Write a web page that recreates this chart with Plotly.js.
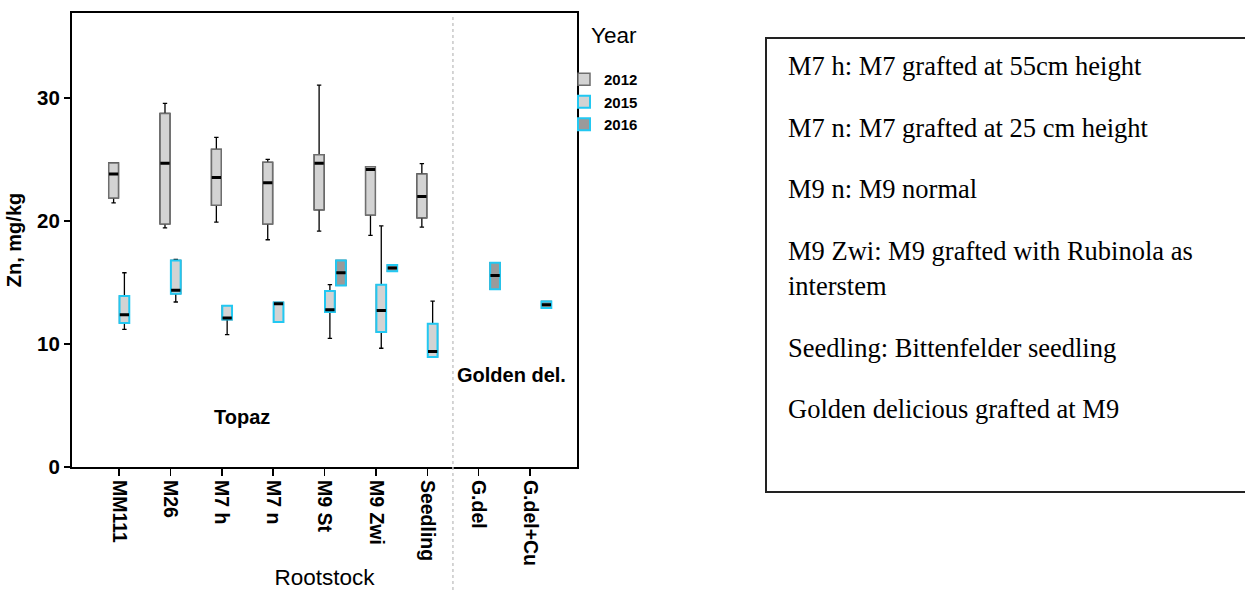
<!DOCTYPE html>
<html>
<head>
<meta charset="utf-8">
<script src="https://cdn.plot.ly/plotly-3.0.1.min.js"></script>
<style>html,body{margin:0;padding:0;background:#fff;}#chart{width:1245px;height:590px;}</style>
</head>
<body>
<div id="chart"></div>
<script>
// ---- Data ----
const categories = ["MM111", "M26", "M7 h", "M7 n", "M9 St", "M9 Zwi", "Seedling", "G.del", "G.del+Cu"];

const cats2012 = ["MM111", "M26", "M7 h", "M7 n", "M9 St", "M9 Zwi", "Seedling"];
const low2012 = [21.47, 19.44, 19.90, 18.47, 19.17, 18.82, 19.49];
const q1_2012 = [21.87, 19.76, 21.27, 19.76, 20.90, 20.49, 20.25];
const med2012 = [23.82, 24.68, 23.52, 23.11, 24.68, 24.19, 21.98];
const q3_2012 = [24.71, 28.73, 25.82, 24.76, 25.38, 24.41, 23.82];
const up2012  = [24.71, 29.55, 26.79, 25.00, 31.04, 24.41, 24.65];

const cats2015 = ["MM111", "M26", "M7 h", "M7 n", "M9 St", "M9 Zwi", "Seedling"];
const low2015 = [11.19, 13.41, 10.76, 11.78, 10.46, 9.65, 8.95];
const q1_2015 = [11.71, 14.09, 11.98, 11.78, 12.60, 10.97, 8.95];
const med2015 = [12.38, 14.36, 12.11, 13.27, 12.79, 12.73, 9.38];
const q3_2015 = [13.89, 16.79, 13.11, 13.38, 14.30, 14.82, 11.65];
const up2015  = [15.79, 16.87, 13.11, 13.38, 14.82, 19.60, 13.49];

const cats2016 = ["M9 St", "M9 Zwi", "G.del", "G.del+Cu"];
const low2016 = [14.76, 15.90, 14.44, 12.92];
const q1_2016 = [14.76, 15.90, 14.44, 12.92];
const med2016 = [15.79, 16.17, 15.57, 13.19];
const q3_2016 = [16.79, 16.41, 16.60, 13.46];
const up2016  = [16.79, 16.41, 16.60, 13.46];

const notes = [
  "M7 h: M7 grafted at 55cm height",
  "M7 n: M7 grafted at 25 cm height",
  "M9 n: M9 normal",
  "M9 Zwi: M9 grafted with Rubinola as",
  "interstem",
  "Seedling: Bittenfelder seedling",
  "Golden delicious grafted at M9"
];

// ---- Styling ----
const SANS = "Liberation Sans, Arial, sans-serif";
const SERIF = "Liberation Serif, Times New Roman, serif";
const years = [
  {name: "2012", cats: cats2012, low: low2012, q1: q1_2012, med: med2012, q3: q3_2012, up: up2012,
   offset: -0.105, fill: "#d3d3d3", border: "#6e6e6e", bw: 1.5},
  {name: "2015", cats: cats2015, low: low2015, q1: q1_2015, med: med2015, q3: q3_2015, up: up2015,
   offset: 0.105, fill: "#d3d3d3", border: "#22c8f2", bw: 2},
  {name: "2016", cats: cats2016, low: low2016, q1: q1_2016, med: med2016, q3: q3_2016, up: up2016,
   offset: 0.32, fill: "#9a9a9a", border: "#22c8f2", bw: 2}
];
const BOXW = 0.19;

const traces = [];
years.forEach(yr => {
  const xs = yr.cats.map(c => categories.indexOf(c) + yr.offset);
  // whiskers
  traces.push({
    type: "box", x: xs, q1: yr.q1, median: yr.med, q3: yr.q3,
    lowerfence: yr.low, upperfence: yr.up, width: BOXW, whiskerwidth: 0.45,
    line: {color: "#000", width: 1.3}, fillcolor: yr.fill, boxpoints: false,
    showlegend: false, hoverinfo: "skip", name: yr.name
  });
  // box outline
  traces.push({
    type: "box", x: xs, q1: yr.q1, median: yr.med, q3: yr.q3,
    lowerfence: yr.q1, upperfence: yr.q3, width: BOXW, whiskerwidth: 0,
    line: {color: yr.border, width: yr.bw}, fillcolor: yr.fill, boxpoints: false,
    showlegend: true, name: yr.name
  });
  // median line
  traces.push({
    type: "box", x: xs, q1: yr.med, median: yr.med, q3: yr.med,
    lowerfence: yr.med, upperfence: yr.med, width: BOXW * 0.95, whiskerwidth: 0,
    line: {color: "#000", width: 3}, fillcolor: "rgba(0,0,0,0)", boxpoints: false,
    showlegend: false, hoverinfo: "skip", name: yr.name
  });
});

// pixel helpers for layout placement
const PL = 72, PR = 577, PT = 13, PB = 467;
const px2paperX = p => (p - PL) / (PR - PL);
const px2paperY = p => (PB - p) / (PB - PT);

const noteBaselines = [75, 137, 198, 260, 295, 357, 418];
const annotations = notes.map((t, i) => ({
  text: t, xref: "paper", yref: "paper", x: px2paperX(786), y: px2paperY(noteBaselines[i] - 9),
  xanchor: "left", yanchor: "middle", showarrow: false,
  font: {family: SERIF, size: 26.5, color: "#000"}
}));
annotations.push(
  {text: "Topaz", xref: "x", yref: "y", x: 2.39, y: 4.05, showarrow: false,
   xanchor: "center", yanchor: "middle",
   font: {family: SANS, size: 20, color: "#000", weight: "bold"}},
  {text: "Golden del.", xref: "x", yref: "y", x: 7.645, y: 7.46, showarrow: false,
   xanchor: "center", yanchor: "middle",
   font: {family: SANS, size: 20, color: "#000", weight: "bold"}},
  {text: "Year", xref: "paper", yref: "paper", x: px2paperX(614), y: px2paperY(36), showarrow: false,
   xanchor: "center", yanchor: "middle",
   font: {family: SANS, size: 22.5, color: "#000"}}
);

const layout = {
  width: 1245, height: 590,
  margin: {l: PL, r: 1245 - PR, t: PT, b: 590 - PB, pad: 0},
  paper_bgcolor: "#fff", plot_bgcolor: "#fff",
  boxmode: "overlay",
  font: {family: SANS, color: "#000"},
  xaxis: {
    range: [-0.915, 8.915], tickvals: categories.map((c, i) => i), ticktext: categories,
    tickangle: 90, ticks: "outside", ticklen: 7, tickwidth: 1.5, tickcolor: "#000",
    showline: true, mirror: true, linecolor: "#000", linewidth: 2,
    showgrid: false, zeroline: false,
    tickfont: {family: SANS, size: 19.5, color: "#000", weight: "bold"},
    title: {text: "Rootstock", standoff: 7, font: {family: SANS, size: 22.5, color: "#000"}}
  },
  yaxis: {
    range: [0, 36.9], tickvals: [0, 10, 20, 30], ticks: "outside", ticklen: 6, tickwidth: 1.5,
    tickcolor: "#000", showline: true, mirror: true, linecolor: "#000", linewidth: 2,
    showgrid: false, zeroline: false,
    tickfont: {family: SANS, size: 20.5, color: "#000", weight: "bold"},
    title: {text: "Zn, mg/kg", standoff: 10, font: {family: SANS, size: 20, color: "#000", weight: "bold"}}
  },
  legend: {
    x: px2paperX(564), y: px2paperY(63), xanchor: "left", yanchor: "top",
    bgcolor: "rgba(0,0,0,0)", traceorder: "normal", itemwidth: 30,
    font: {family: SANS, size: 15, color: "#000", weight: "bold"}
  },
  shapes: [
    {type: "line", xref: "x", yref: "paper", x0: 6.5, x1: 6.5, y0: px2paperY(590), y1: px2paperY(14),
     line: {color: "#c8c8c8", width: 1.5, dash: "dot"}},
    {type: "rect", xref: "paper", yref: "paper", x0: px2paperX(766), x1: px2paperX(1260),
     y0: px2paperY(492), y1: px2paperY(38), line: {color: "#222", width: 2}}
  ],
  annotations: annotations
};

Plotly.newPlot("chart", traces, layout, {displayModeBar: false, staticPlot: true});
</script>
</body>
</html>
